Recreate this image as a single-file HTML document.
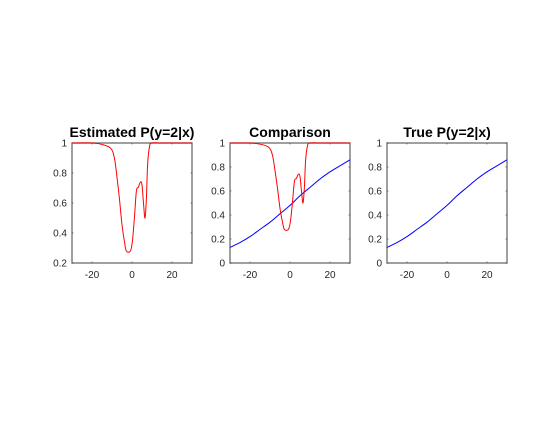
<!DOCTYPE html>
<html><head><meta charset="utf-8"><style>
body{margin:0;background:#fff;width:560px;height:420px;overflow:hidden}
text{font-family:"Liberation Sans",sans-serif}
</style></head><body>
<svg id="fig" width="560" height="420" xmlns="http://www.w3.org/2000/svg"></svg>
<script>
const redX=[-30,-20,-15.8,-10.8,-8.8,-7.5,-6.3,-5,-3.8,-2.8,-0.8,0.2,1.2,2.2,3.2,4.2,5,5.8,6.5,7.2,7.8,8.8,10,15,30];
const redY=[1,1,0.993,0.967,0.9,0.77,0.63,0.455,0.345,0.28,0.28,0.345,0.5,0.68,0.705,0.74,0.72,0.59,0.5,0.63,0.855,0.98,1,1,1];
const blueX=[-30,-25,-20,-15,-10,-5,0,5,10,15,20,25,30];
const blueY=[0.13,0.17,0.22,0.28,0.34,0.41,0.48,0.56,0.63,0.70,0.76,0.81,0.86];
const xTicks=[-20,0,20];
const yTicks1=[0.2,0.4,0.6,0.8,1];
const yTicks2=[0,0.2,0.4,0.6,0.8,1];
const titles=["Estimated P(y=2|x)","Comparison","True P(y=2|x)"];
const NS="http://www.w3.org/2000/svg";
const svg=document.getElementById('fig');
function mk(t,a,p){const e=document.createElementNS(NS,t);for(const k in a)e.setAttribute(k,a[k]);(p||svg).appendChild(e);return e;}
function smooth(P){let d='M'+P[0][0].toFixed(2)+','+P[0][1].toFixed(2);
 for(let i=0;i<P.length-1;i++){const p0=P[Math.max(0,i-1)],p1=P[i],p2=P[i+1],p3=P[Math.min(P.length-1,i+2)];
  const c1=[p1[0]+(p2[0]-p0[0])/6,p1[1]+(p2[1]-p0[1])/6],c2=[p2[0]-(p3[0]-p1[0])/6,p2[1]-(p3[1]-p1[1])/6];
  d+='C'+c1.map(v=>v.toFixed(2))+' '+c2.map(v=>v.toFixed(2))+' '+p2.map(v=>v.toFixed(2));}
 return d;}
const panels=[
 {x0:72,title:titles[0],ymin:0.2,yt:yTicks1,series:[[redX,redY,'#ff0000']]},
 {x0:230,title:titles[1],ymin:0,yt:yTicks2,series:[[blueX,blueY,'#0000ff'],[redX,redY,'#ff0000']]},
 {x0:387,title:titles[2],ymin:0,yt:yTicks2,series:[[blueX,blueY,'#0000ff']]}];
const W=120,T=143,H=120;
panels.forEach((p,i)=>{
 const g=mk('g',{});
 
 
 const sx=v=>p.x0+(v+30)/60*W, sy=v=>T+H-(v-p.ymin)/(1-p.ymin)*H;
 const b=mk('rect',{x:p.x0,y:T,width:W,height:H,fill:'none',stroke:'#808080','stroke-width':1.5},g);
 
 xTicks.forEach(t=>{const x=sx(t);mk('line',{x1:x,x2:x,y1:T+H,y2:T+H-1.5,stroke:'#262626','stroke-width':0.5},g);mk('line',{x1:x,x2:x,y1:T,y2:T+1.5,stroke:'#262626','stroke-width':0.5},g);
  const tx=mk('text',{x:x,y:T+H+15,'font-size':10,'text-anchor':'middle',fill:'#262626'},g);tx.textContent=t;
  });
 p.yt.forEach(t=>{const y=sy(t);mk('line',{x1:p.x0,x2:p.x0+1.5,y1:y,y2:y,stroke:'#262626','stroke-width':0.5},g);mk('line',{x1:p.x0+W,x2:p.x0+W-1.5,y1:y,y2:y,stroke:'#262626','stroke-width':0.5},g);
  const tx=mk('text',{x:p.x0-5,y:y+3.5,'font-size':10,'text-anchor':'end',fill:'#262626'},g);tx.textContent=String(t);
  });
 p.series.forEach(s=>{const pts=s[0].map((x,j)=>[sx(x),sy(s[1][j])]);
  const l=mk('path',{d:smooth(pts),fill:'none',stroke:s[2],'stroke-width':1},g);
  });
 const tt=mk('text',{x:p.x0+W/2,y:T-6,'font-size':14,'font-weight':'bold','text-anchor':'middle',fill:'#000'},g);tt.textContent=p.title;
 
});
</script>
</body></html>
